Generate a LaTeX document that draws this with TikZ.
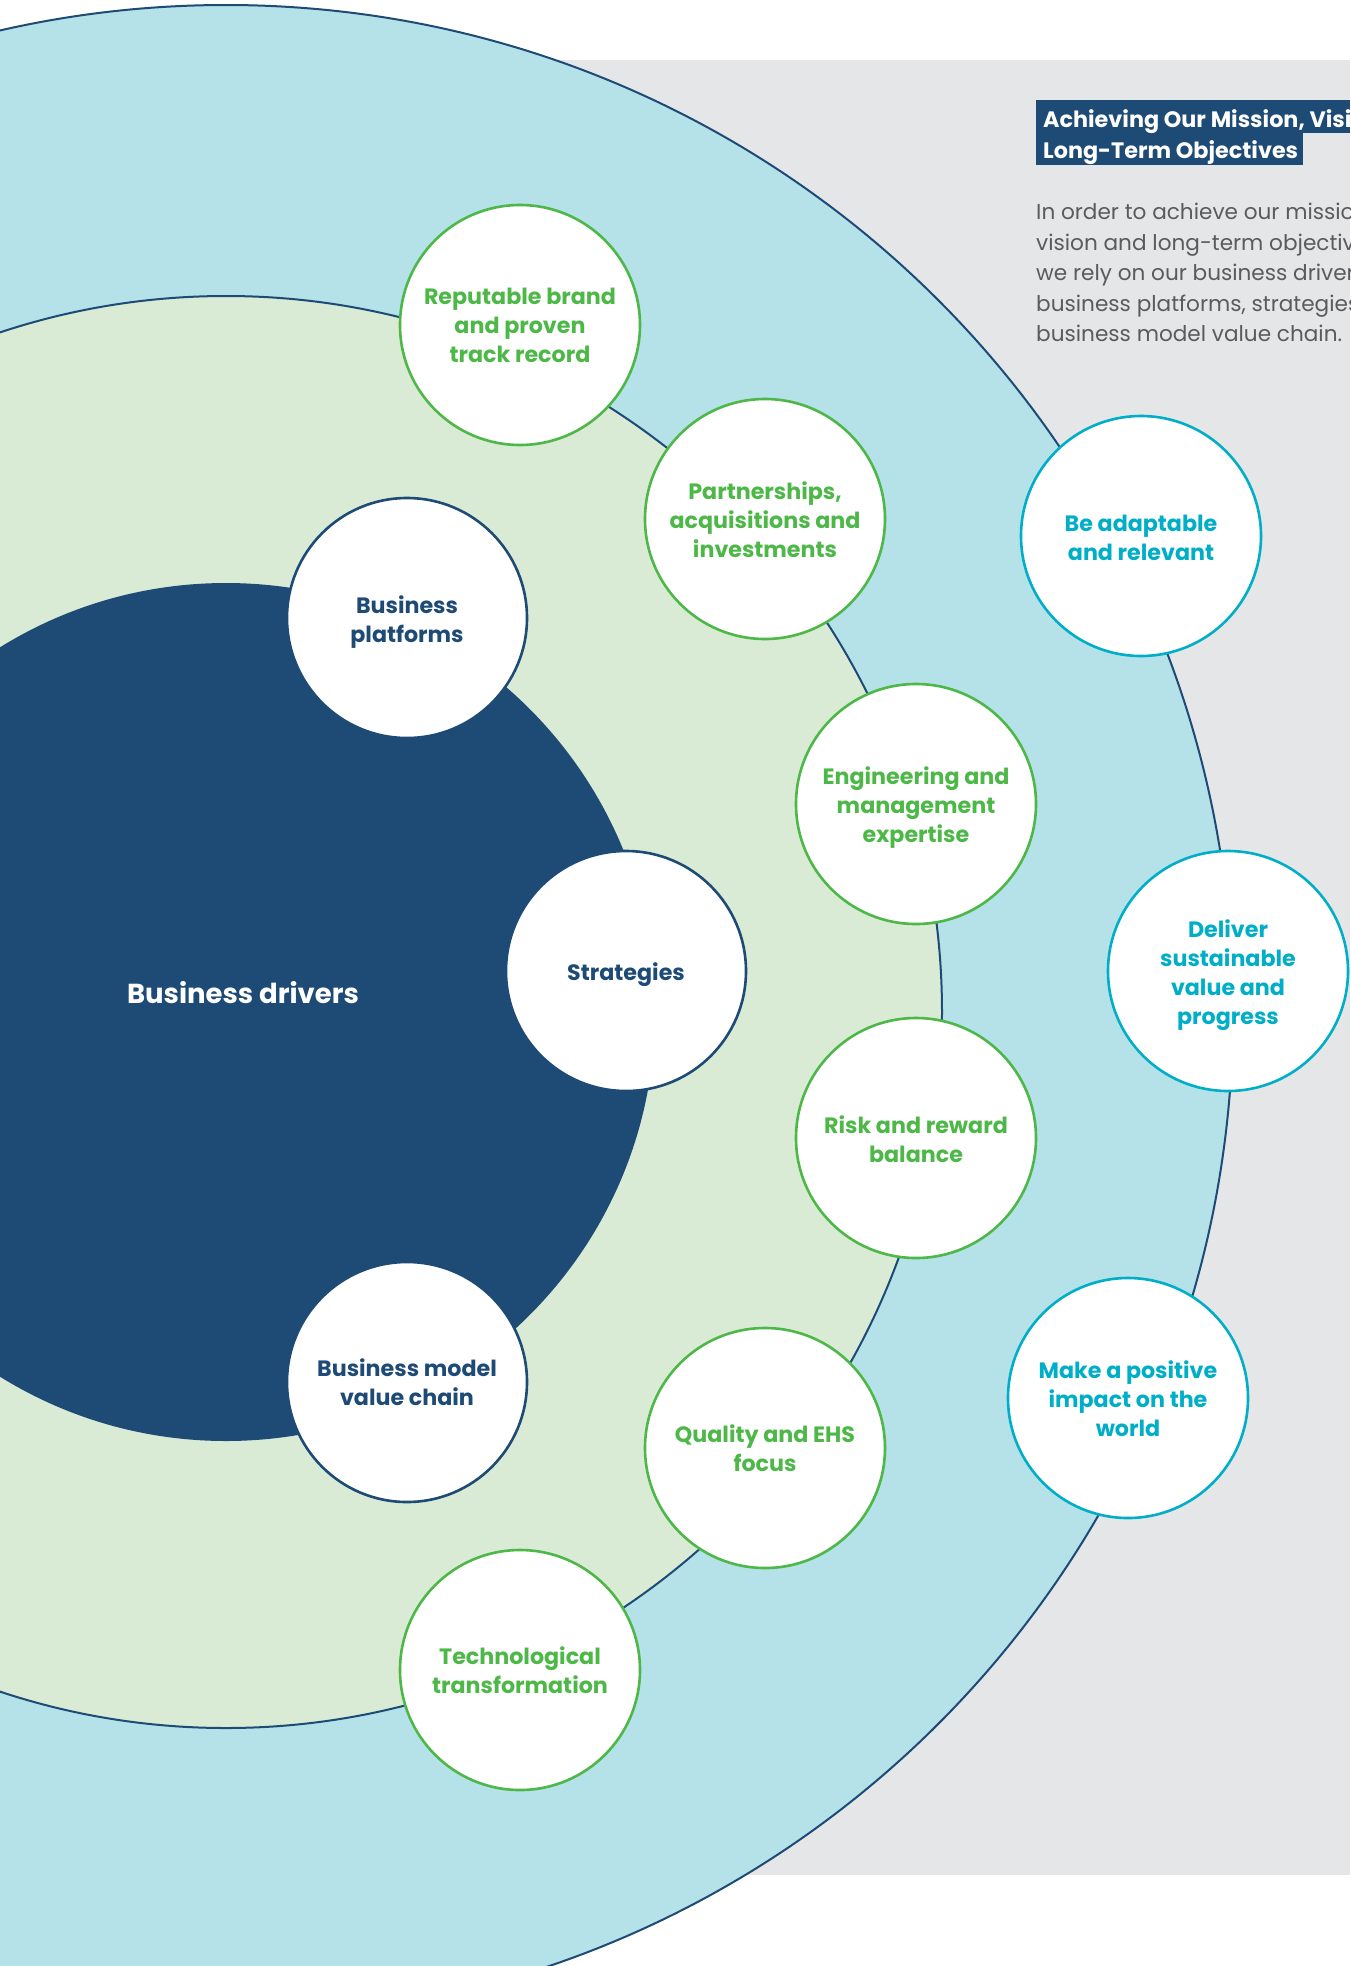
\documentclass[tikz,border=0pt]{standalone}
\usepackage{fontspec}
\setmainfont{Poppins}
\definecolor{navy}{HTML}{1E4A76}
\definecolor{lblue}{HTML}{B5E1E8}
\definecolor{lgreen}{HTML}{DAEBD5}
\definecolor{panel}{HTML}{E5E6E8}
\definecolor{grn}{HTML}{4DB848}
\definecolor{cyn}{HTML}{00AEC7}
\definecolor{txtgray}{HTML}{5A5B5D}
\tikzset{
  bubble/.style={circle, fill=white, line width=2.6pt, minimum size=240pt, inner sep=0pt},
  btext/.style={align=center, inner sep=0pt, yshift=-0.5pt, font=\fontsize{22.2}{29}\selectfont\bfseries},
  lower/.style={yshift=-3.5pt},
  gbubble/.style={bubble, draw=grn},
  nbubble/.style={bubble, draw=navy},
  cbubble/.style={bubble, draw=cyn},
  gtext/.style={btext, text=grn},
  ntext/.style={btext, text=navy},
  ctext/.style={btext, text=cyn},
  ring/.style={draw=navy, line width=2pt},
  titleline/.style={anchor=base west, inner sep=0pt, text=white, font=\fontsize{22.3}{29}\selectfont\bfseries},
  bodyline/.style={anchor=base west, inner sep=0pt, text=txtgray, font=\fontsize{21.6}{30}\selectfont}
}
\begin{document}
\begin{tikzpicture}[x=1pt,y=-1pt]
\useasboundingbox (0,0) rectangle (1350,1966);
\clip (0,0) rectangle (1350,1966);
\fill[white] (0,0) rectangle (1350,1966);
% grey panel
\fill[panel] (300,60) rectangle (1350,1875);
% rings
\coordinate (c) at (226,1012);
\filldraw[ring, fill=lblue] (c) circle [radius=1007pt];
\filldraw[ring, fill=lgreen] (c) circle [radius=716pt];
\fill[navy] (c) circle [radius=429pt];
\node[text=white, font=\fontsize{27.5}{34}\selectfont\bfseries] (drivers) at (243,993) {Business drivers};
% navy bubbles
\node[nbubble, label={[ntext,lower]center:{Business\\platforms}}] (platforms) at (407,618) {};
\node[nbubble, label={[ntext,lower]center:{Strategies}}] (strategies) at (626,971) {};
\node[nbubble, label={[ntext]center:{Business model\\value chain}}] (valuechain) at (407,1382) {};
% green bubbles
\node[gbubble, label={[gtext]center:{Reputable brand\\and proven\\track record}}] (brand) at (520,325) {};
\node[gbubble, label={[gtext]center:{Partnerships,\\acquisitions and\\investments}}] (partner) at (765,519) {};
\node[gbubble, label={[gtext,lower]center:{Engineering and\\management\\expertise}}] (engineer) at (916,804) {};
\node[gbubble, label={[gtext,yshift=-1pt]center:{Risk and reward\\balance}}] (risk) at (916,1138) {};
\node[gbubble, label={[gtext]center:{Quality and EHS\\focus}}] (quality) at (765,1448) {};
\node[gbubble, label={[gtext]center:{Technological\\transformation}}] (tech) at (520,1670) {};
% cyan bubbles
\node[cbubble, label={[ctext,yshift=-1pt]center:{Be adaptable\\and relevant}}] (adapt) at (1141,536) {};
\node[cbubble, label={[ctext,lower]center:{Deliver\\sustainable\\value and\\progress}}] (deliver) at (1228,971) {};
\node[cbubble, label={[ctext]center:{Make a positive\\impact on the\\world}}] (impact) at (1128,1398) {};
% title
\fill[navy] (1036,100) rectangle (1350,133);
\fill[navy] (1036,133) rectangle (1303,165);
\node[titleline] (t1) at (1043,127) {Achieving Our Mission, Vision and};
\node[titleline] (t2) at (1043,158) {Long-Term Objectives};
% body
\node[bodyline] (b1) at (1036,219) {In order to achieve our mission,};
\node[bodyline] (b2) at (1036,250) {vision and long-term objectives,};
\node[bodyline] (b3) at (1036,280) {we rely on our business drivers,};
\node[bodyline] (b4) at (1036,311) {business platforms, strategies and};
\node[bodyline] (b5) at (1036,341) {business model value chain.};
\end{tikzpicture}
\end{document}
